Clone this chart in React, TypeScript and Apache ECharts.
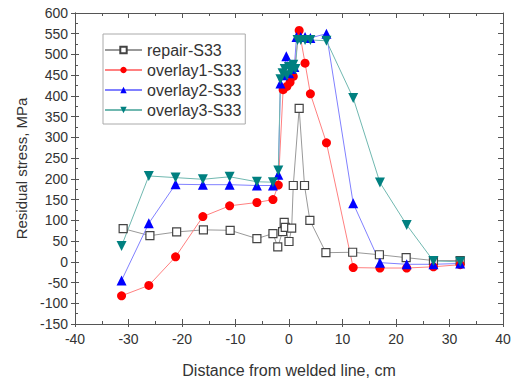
import React, { useEffect, useRef } from "react";
import * as echarts from "echarts";

const xTicks = { min: -40, max: 40, interval: 10 };
const yTicks = { min: -150, max: 600, interval: 50 };

const seriesNames = ["repair-S33", "overlay1-S33", "overlay2-S33", "overlay3-S33"];

const repairX = [-31, -26, -21, -16, -11, -6, -3, -2.1, -1.2, -0.9, -0.7, 0, 0.5, 0.8, 1.9, 2.9, 3.9, 6.9, 11.9, 16.9, 21.9, 27, 32];
const repairY = [80, 63, 72, 77, 76, 56, 68, 36, 73, 95, 83, 49, 81, 184, 370, 184, 100, 22, 23, 17, 10, 3, 3];

const overlay1X = [-31.3, -26.2, -21.2, -16.1, -11.1, -6, -3, -2, -1.1, -0.4, 0.2, 0.8, 1.9, 3, 4, 7, 12, 17, 22, 27, 32];
const overlay1Y = [-82, -57, 12, 109, 135, 143, 150, 185, 415, 423, 433, 447, 558, 479, 405, 287, -14, -15, -15, -12, -7];

const overlay2X = [-31.3, -26.2, -21.2, -16.1, -11.1, -6, -3, -2, -1.6, -1.1, -0.5, 0, 0.5, 1, 1.4, 2.2, 3, 4, 7, 12, 17, 22, 27, 32];
const overlay2Y = [-45, 93, 187, 186, 186, 184, 184, 210, 430, 450, 496, 455, 465, 470, 542, 542, 542, 540, 550, 141, -2, -6, -6, -4];

const overlay3X = [-31.3, -26.2, -21.2, -16.1, -11.1, -6, -3, -2, -1.6, -1.2, -0.8, -0.4, 0, 0.4, 0.8, 1.2, 1.6, 2.2, 3, 4, 7, 12, 17, 22, 27, 32];
const overlay3Y = [38, 207, 203, 199, 205, 193, 192, 220, 440, 455, 465, 450, 470, 460, 475, 465, 535, 535, 535, 535, 533, 395, 191, 89, 2, 0];

const zip = (xs: number[], ys: number[]) => xs.map((x, i) => [x, ys[i]]);

const FONT = "'Liberation Sans', Arial, sans-serif";
const AXIS = "#555";

export default function App() {
  const ref = useRef<HTMLDivElement>(null);
  useEffect(() => {
    document.body.style.margin = "0";
    const chart = echarts.init(ref.current!, null, { renderer: "svg" });
    const baseX = {
      type: "value" as const,
      min: xTicks.min,
      max: xTicks.max,
      interval: xTicks.interval,
      splitLine: { show: false },
      axisLine: { show: true, onZero: false, lineStyle: { color: AXIS, width: 1 } },
    };
    const baseY = {
      type: "value" as const,
      min: yTicks.min,
      max: yTicks.max,
      interval: yTicks.interval,
      splitLine: { show: false },
      axisLine: { show: true, onZero: false, lineStyle: { color: AXIS, width: 1 } },
    };
    const hidden = { show: false };
    chart.setOption({
      animation: false,
      grid: { left: 75, right: 13, top: 13, bottom: 55, containLabel: false },
      xAxis: [
        {
          ...baseX,
          position: "bottom",
          name: "Distance from welded line, cm",
          nameLocation: "middle",
          nameGap: 38,
          nameTextStyle: { fontSize: 16, color: "#333", fontFamily: FONT },
          axisTick: { show: true, inside: false, length: 3, lineStyle: { color: AXIS } },
          axisLabel: { fontSize: 14, color: "#333", fontFamily: FONT, margin: 8 },
        },
        {
          ...baseX,
          position: "bottom",
          axisTick: { show: true, inside: true, length: 5, lineStyle: { color: AXIS } },
          minorTick: { show: true, splitNumber: 2, length: 3, lineStyle: { color: AXIS } },
          axisLabel: hidden,
        },
        {
          ...baseX,
          position: "top",
          axisTick: { show: true, inside: true, length: 5, lineStyle: { color: AXIS } },
          minorTick: { show: true, splitNumber: 2, length: 3, lineStyle: { color: AXIS } },
          axisLabel: hidden,
        },
      ],
      yAxis: [
        {
          ...baseY,
          position: "left",
          name: "Residual stress, MPa",
          nameLocation: "middle",
          nameGap: 43,
          nameRotate: 90,
          nameTextStyle: { fontSize: 15, color: "#333", fontFamily: FONT },
          axisTick: { show: true, inside: false, length: 4, lineStyle: { color: AXIS } },
          axisLabel: { fontSize: 14, color: "#333", fontFamily: FONT, margin: 7 },
        },
        {
          ...baseY,
          position: "left",
          axisTick: { show: true, inside: true, length: 4, lineStyle: { color: AXIS } },
          minorTick: { show: true, splitNumber: 2, length: 3, lineStyle: { color: AXIS } },
          axisLabel: hidden,
        },
        {
          ...baseY,
          position: "right",
          axisTick: { show: true, inside: true, length: 5, lineStyle: { color: AXIS } },
          minorTick: { show: true, splitNumber: 2, length: 3, lineStyle: { color: AXIS } },
          axisLabel: hidden,
        },
      ],
      legend: {
        orient: "vertical",
        left: 103,
        top: 34,
        width: 139,
        padding: [8, 4, 6, 1],
        itemGap: 4,
        itemWidth: 37,
        itemHeight: 8,
        borderColor: "#aaa",
        borderWidth: 1,
        backgroundColor: "#fff",
        textStyle: { fontSize: 16, color: "#333", fontFamily: FONT, lineHeight: 16 },
        data: seriesNames,
      },
      series: [
        {
          name: seriesNames[0],
          type: "line",
          data: zip(repairX, repairY),
          symbol: "rect",
          symbolSize: 8,
          lineStyle: { color: "#999", width: 1 },
          itemStyle: { color: "#fff", borderColor: "#444", borderWidth: 1.2 },
        },
        {
          name: seriesNames[1],
          type: "line",
          data: zip(overlay1X, overlay1Y),
          symbol: "circle",
          symbolSize: 9,
          lineStyle: { color: "#ff8080", width: 1 },
          itemStyle: { color: "#ff0000", borderWidth: 0 },
        },
        {
          name: seriesNames[2],
          type: "line",
          data: zip(overlay2X, overlay2Y),
          symbol: "triangle",
          symbolSize: 10,
          lineStyle: { color: "#8080ff", width: 1 },
          itemStyle: { color: "#0000ff", borderWidth: 0 },
        },
        {
          name: seriesNames[3],
          type: "line",
          data: zip(overlay3X, overlay3Y),
          symbol: "triangle",
          symbolRotate: 180,
          symbolSize: 10,
          lineStyle: { color: "#70b8b0", width: 1 },
          itemStyle: { color: "#008080", borderWidth: 0 },
        },
      ],
    });
    return () => chart.dispose();
  }, []);
  return <div ref={ref} style={{ width: 516, height: 383 }} />;
}
